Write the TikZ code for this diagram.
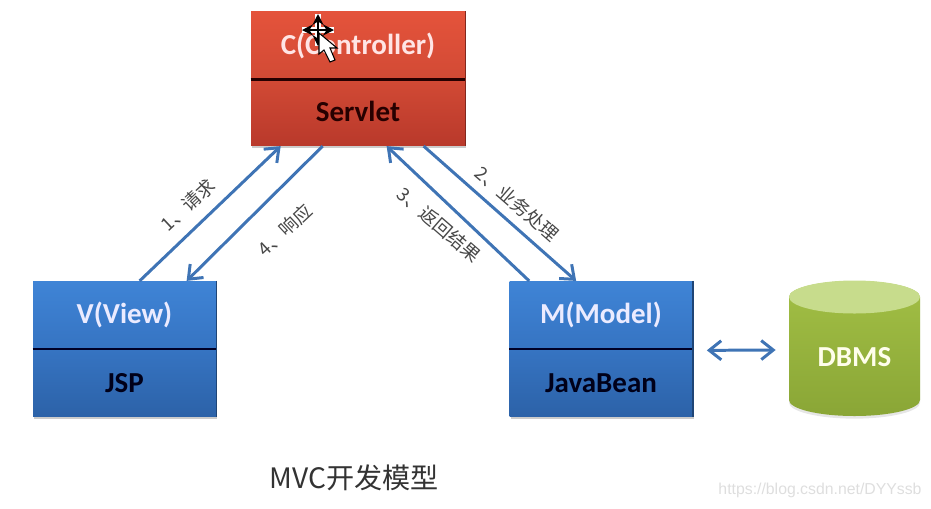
\documentclass[tikz,border=0pt]{standalone}
\usepackage{fontspec}
\setmainfont{Carlito}
\newfontfamily\cjk{Noto Sans CJK SC}
\newfontfamily\wmark{Liberation Sans}
\usetikzlibrary{arrows.meta,shadows}

\definecolor{arrowblue}{HTML}{3F74B5}
\definecolor{redtop}{HTML}{E4533B}
\definecolor{redmid}{HTML}{D24A35}
\definecolor{redlow}{HTML}{B9392B}
\definecolor{bluetop}{HTML}{3F84D6}
\definecolor{bluemid}{HTML}{3674C2}
\definecolor{bluelow}{HTML}{2C62A8}
\definecolor{greenend}{HTML}{C7DC8C}
\definecolor{greentop}{HTML}{A2BF45}
\definecolor{greenlow}{HTML}{8AA636}

\tikzset{
  boxpart/.style={rectangle, inner sep=0pt, minimum height=1.35cm, font=\fontsize{16.5}{18}\selectfont\bfseries,
    drop shadow={shadow xshift=0.8pt, shadow yshift=-1.5pt, opacity=0.4}},
  redpart/.style={boxpart, minimum width=4.28cm},
  bluepart/.style={boxpart, minimum width=3.66cm},
  steplabel/.style={font=\cjk\fontsize{10.5}{12}\selectfont, text=black!72, inner sep=0pt},
  flow/.style={draw=arrowblue, line width=1.7pt, -{Straight Barb[length=2.4mm,width=3.8mm]}},
  edgeline/.style={line width=1.3pt}
}

\begin{document}
\begin{tikzpicture}[x=0.02cm,y=-0.02cm]
 \useasboundingbox (0,0) rectangle (931,508);

 % controller
 \node[redpart, top color=redtop, bottom color=redmid, text=white!90!red] (ctrl) at (358,45.5) {C(Controller)};
 \node[redpart, top color=redmid, bottom color=redlow, text=black!85!red] (servlet) at (358,112) {\raisebox{0.5pt}{Servlet}};
 \draw[edgeline, black!85!red] (ctrl.south west) -- (ctrl.south east);
 \draw[redlow!70!black, line width=0.8pt] (ctrl.north east) -- (servlet.south east);

 % view
 \node[bluepart, top color=bluetop, bottom color=bluemid, text=white!92!blue] (view) at (124.5,315) {V(View)};
 \node[bluepart, top color=bluemid, bottom color=bluelow, text=black!90!blue] (jsp) at (124.5,383) {JSP};
 \draw[edgeline, black!85!blue] (view.south west) -- (view.south east);
 \draw[bluelow!70!black, line width=0.8pt] (view.north east) -- (jsp.south east);

 % model
 \node[bluepart, top color=bluetop, bottom color=bluemid, text=white!92!blue] (model) at (601,315) {M(Model)};
 \node[bluepart, top color=bluemid, bottom color=bluelow, text=black!90!blue] (javabean) at (601,383) {JavaBean};
 \draw[edgeline, black!85!blue] (model.south west) -- (model.south east);
 \draw[bluelow!70!black, line width=0.8pt] (model.north east) -- (javabean.south east);

 % database
 \shade[top color=greentop, bottom color=greenlow, drop shadow={shadow xshift=0pt, shadow yshift=-1.5pt, opacity=0.2}]
   (789,297) -- (789,400) arc[start angle=180, end angle=360, x radius=65.5, y radius=-16] -- (920,297)
   arc[start angle=0, end angle=180, x radius=65.5, y radius=-16] -- cycle;
 \fill[greenend] (854.5,297) ellipse [x radius=65.5, y radius=16.5];
 \node[minimum width=2.62cm, inner sep=0pt, text=white!92!yellow, font=\fontsize{16.5}{18}\selectfont\bfseries] (dbms) at (854.5,357) {DBMS};

 % arrows
 \draw[flow] ([xshift=2.14cm]view.north west) -- ([xshift=0.6cm]servlet.south west);
 \draw[flow] ([xshift=1.44cm]servlet.south west) -- ([xshift=3.08cm]view.north west);
 \draw[flow] ([xshift=0.4cm]model.north west) -- ([xshift=2.72cm]servlet.south west);
 \draw[flow] ([xshift=3.46cm]servlet.south west) -- ([xshift=1.34cm]model.north west);
 \draw[flow, {Straight Barb[length=2.4mm,width=3.8mm]}-{Straight Barb[length=2.4mm,width=3.8mm]}]
   ([xshift=0.28cm,yshift=-0.025cm]model.south east) -- ([xshift=-0.26cm,yshift=0.14cm]dbms.west);

 \node[steplabel, rotate=43] (req) at (188,205) {1、请求};
 \node[steplabel, rotate=43] (resp) at (285,230) {4、响应};
 \node[steplabel, rotate=-41] (back) at (439,225) {3、返回结果};
 \node[steplabel, rotate=-41] (biz) at (517,204) {2、业务处理};

 \node[font=\cjk\fontsize{16}{18}\selectfont, text=black!80, inner sep=0pt] (title) at (354,478) {MVC开发模型};
 \node[font=\wmark\fontsize{9}{11}\selectfont, text=black!13, inner sep=0pt] (mark) at (820,490) {https://blog.csdn.net/DYYssb};

 % pointer
 \draw[white, line width=3.5pt] (318,14) -- (318,46) (302,30) -- (334,30);
 \draw[black, line width=0.8pt, {Stealth[length=2.2mm,width=2.2mm]}-{Stealth[length=2.2mm,width=2.2mm]}] (318,14) -- (318,46);
 \draw[black, line width=0.8pt, {Stealth[length=2.2mm,width=2.2mm]}-{Stealth[length=2.2mm,width=2.2mm]}] (302,30) -- (334,30);
 \draw[black, fill=white, line width=0.6pt] (319,33) -- (319,54) -- (324,50) -- (330,62) -- (335,60) -- (330,48) -- (337,48) -- cycle;
\end{tikzpicture}
\end{document}
